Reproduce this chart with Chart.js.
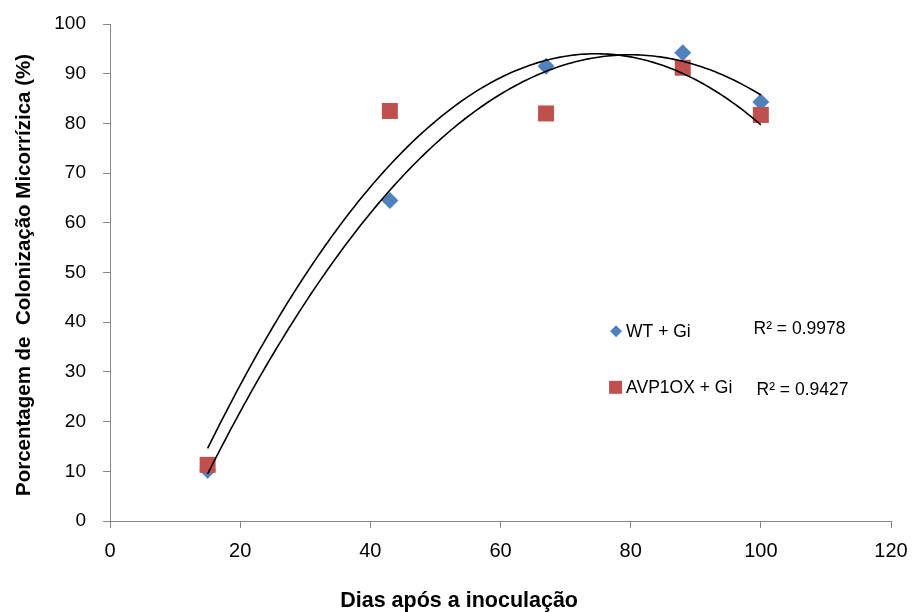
<!DOCTYPE html>
<html>
<head>
<meta charset="utf-8">
<script src="https://cdn.jsdelivr.net/npm/chart.js@4"></script>
<style>
  html, body { margin: 0; padding: 0; background: #fff; }
  #wrap { width: 912px; height: 612px; }
</style>
</head>
<body>
<div id="wrap"><canvas id="res" width="912" height="612"></canvas></div>
<script>
(function () {

    // dias após inoculação
    var dias = [15, 43, 67, 88, 100];
    // colonização (%)
    var wt = [10.2, 64.5, 91.5, 94.2, 84.3];
    var avp = [11.3, 82.5, 82, 91.2, 81.7];

    var nomes = ['WT + Gi', 'AVP1OX + Gi'];
    var r2Labels = ['R\u00B2 = 0.9978', 'R\u00B2 = 0.9427'];
    var tituloX = 'Dias após a inoculação';
    var tituloY = 'Porcentagem de  Colonização Micorrízica (%)';
    var yTicks = [0, 10, 20, 30, 40, 50, 60, 70, 80, 90, 100];
    var xTicks = [0, 20, 40, 60, 80, 100, 120];

    var azul = '#4F81BD';
    var vermelho = '#C0504D';
    var eixo = '#868686';
    var fonte = '"Liberation Sans", Arial, sans-serif';

    // ajuste polinomial de 2a ordem (mínimos quadrados)
    function poly2(xs, ys) {
        var n = xs.length, s = [0, 0, 0, 0, 0], t = [0, 0, 0];
        for (var i = 0; i < n; i++) {
            var p = 1;
            for (var k = 0; k < 5; k++) { s[k] += p; if (k < 3) t[k] += p * ys[i]; p *= xs[i]; }
        }
        var m = [[s[0], s[1], s[2], t[0]], [s[1], s[2], s[3], t[1]], [s[2], s[3], s[4], t[2]]];
        for (var c = 0; c < 3; c++) {
            for (var r = c + 1; r < 3; r++) {
                var f = m[r][c] / m[c][c];
                for (var j = c; j < 4; j++) m[r][j] -= f * m[c][j];
            }
        }
        var a = [0, 0, 0];
        for (var r2 = 2; r2 >= 0; r2--) {
            var v = m[r2][3];
            for (var j2 = r2 + 1; j2 < 3; j2++) v -= m[r2][j2] * a[j2];
            a[r2] = v / m[r2][r2];
        }
        return function (x) { return a[0] + a[1] * x + a[2] * x * x; };
    }

    function curva(ys) {
        var f = poly2(dias, ys), pts = [];
        var x0 = dias[0], x1 = dias[dias.length - 1];
        for (var x = x0; x <= x1 + 0.001; x += 0.5) pts.push({x: x, y: f(x)});
        return pts;
    }

    function pontos(ys) {
        return dias.map(function (d, i) { return {x: d, y: ys[i]}; });
    }

    // títulos dos eixos, legenda e R² desenhados à mão
    var extras = {
        id: 'extras',
        afterDatasetsDraw: function (chart) {
            var c = chart.ctx, a = chart.chartArea;
            var w = a.right - a.left, h = a.bottom - a.top;
            var lx = a.left + w * 0.648;
            var rx = a.left + w * 0.824;
            var y1 = a.top + h * 0.618;
            var y2 = a.top + h * 0.73;
            c.save();
            c.fillStyle = azul;
            c.beginPath();
            c.moveTo(lx, y1 - 6); c.lineTo(lx + 6, y1); c.lineTo(lx, y1 + 6); c.lineTo(lx - 6, y1);
            c.closePath(); c.fill();
            c.fillStyle = vermelho;
            c.fillRect(lx - 7, y2 - 6, 13, 13);
            c.fillStyle = '#000';
            c.font = '17.5px ' + fonte;
            c.textBaseline = 'middle';
            c.fillText(nomes[0], lx + 10, y1 + 1);
            c.fillText(nomes[1], lx + 10, y2 + 1);
            c.fillText(r2Labels[0], rx, y1 - 2);
            c.fillText(r2Labels[1], rx + 3, y2 + 3);

            c.textAlign = 'center';
            c.font = 'bold 21.5px ' + fonte;
            c.fillText(tituloX, a.left + w * 0.447, 601);
            c.translate(24, a.top + h * 0.505);
            c.rotate(-Math.PI / 2);
            c.font = 'bold 20.5px ' + fonte;
            c.fillText(tituloY, 0, 0);
            c.restore();
        }
    };

    var ctx = document.getElementById('res').getContext('2d');

    var options = {
        type: 'scatter',
        data: {
            datasets: [
                {
                    label: nomes[0] + ' (tendência)',
                    data: curva(wt),
                    showLine: true,
                    borderColor: '#000',
                    borderWidth: 1.6,
                    pointRadius: 0,
                    tension: 0,
                    order: 0
                },
                {
                    label: nomes[1] + ' (tendência)',
                    data: curva(avp),
                    showLine: true,
                    borderColor: '#000',
                    borderWidth: 1.6,
                    pointRadius: 0,
                    tension: 0,
                    order: 0
                },
                {
                    label: nomes[1],
                    data: pontos(avp),
                    pointStyle: 'rect',
                    pointRadius: 11.3,
                    backgroundColor: vermelho,
                    borderColor: vermelho,
                    borderWidth: 0,
                    order: 1
                },
                {
                    label: nomes[0],
                    data: pontos(wt),
                    pointStyle: 'rectRot',
                    pointRadius: 8.5,
                    backgroundColor: azul,
                    borderColor: azul,
                    borderWidth: 0,
                    order: 2
                }
            ]
        },
        plugins: [extras],
        options: {
            responsive: false,
            animation: false,
            layout: { padding: { top: 24, right: 21, left: 0, bottom: 0 } },
            plugins: {
                legend: { display: false },
                tooltip: { enabled: false }
            },
            scales: {
                x: {
                    type: 'linear',
                    min: 0,
                    max: 120,
                    afterBuildTicks: function (s) { s.ticks = xTicks.map(function (v) { return {value: v}; }); },
                    grid: { drawOnChartArea: false, drawTicks: true, tickLength: 7, color: eixo },
                    border: { display: true, color: eixo, width: 1 },
                    ticks: { color: '#000', padding: 11, maxRotation: 0, font: { family: fonte, size: 20 } },
                    afterFit: function (s) { s.height = 91; s.paddingLeft = 0; s.paddingRight = 0; }
                },
                y: {
                    type: 'linear',
                    min: 0,
                    max: 100,
                    afterBuildTicks: function (s) { s.ticks = yTicks.map(function (v) { return {value: v}; }); },
                    grid: { drawOnChartArea: false, drawTicks: true, tickLength: 7, color: eixo },
                    border: { display: true, color: eixo, width: 1 },
                    ticks: { color: '#000', padding: 17, font: { family: fonte, size: 19 } },
                    afterFit: function (s) { s.width = 110; s.paddingTop = 0; s.paddingBottom = 0; }
                }
            }
        }
    };

    var grafico = new Chart(ctx, options);

})();
</script>
</body>
</html>
